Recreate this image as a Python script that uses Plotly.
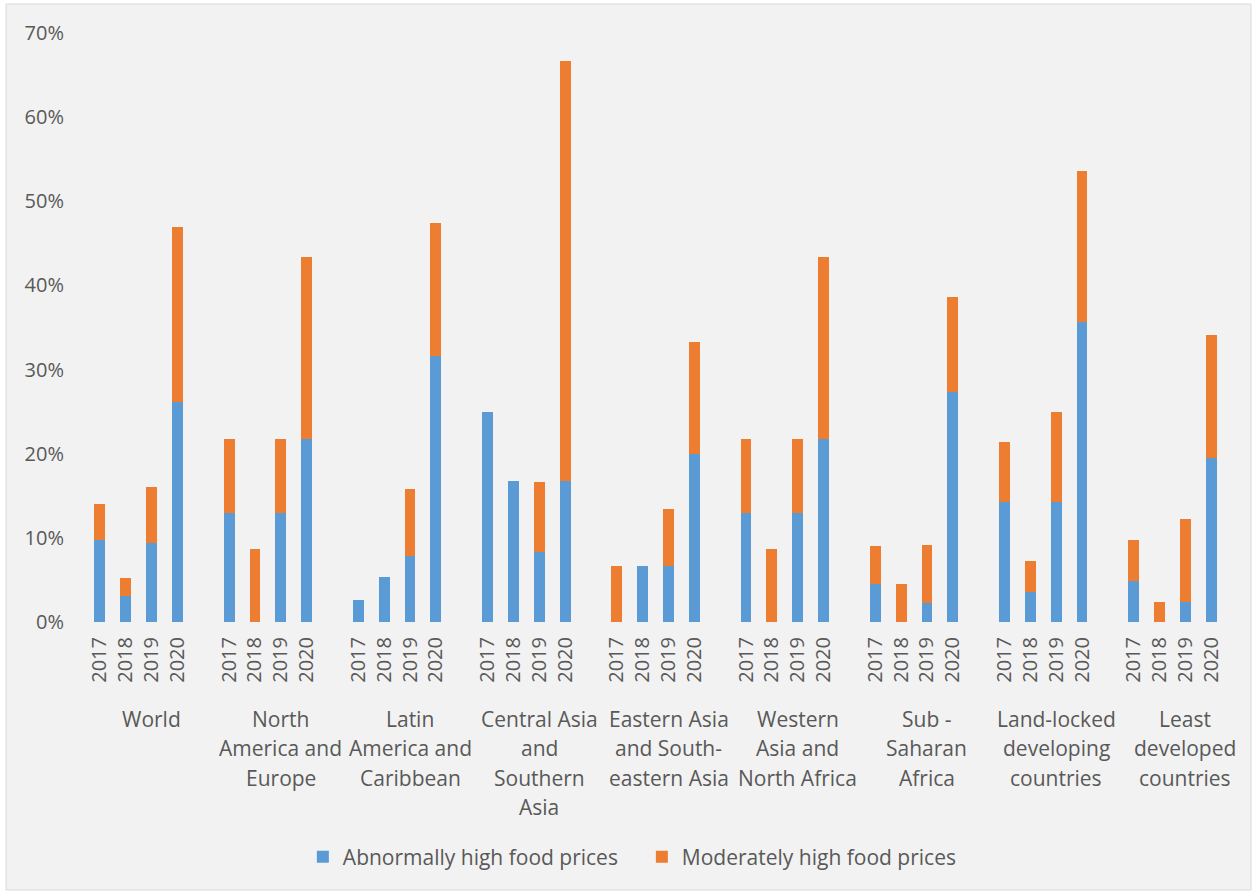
import plotly.graph_objects as go

groups = ["World", "North<br>America and<br>Europe", "Latin<br>America and<br>Caribbean",
          "Central Asia<br>and<br>Southern<br>Asia", "Eastern Asia<br>and South-<br>eastern Asia",
          "Western<br>Asia and<br>North Africa", "Sub -<br>Saharan<br>Africa",
          "Land-locked<br>developing<br>countries", "Least<br>developed<br>countries"]
years = ["2017", "2018", "2019", "2020"]

abnormal = [
    [9.8, 3.1, 9.4, 26.1],
    [13.0, 0, 13.0, 21.7],
    [2.6, 5.3, 7.9, 31.6],
    [25.0, 16.7, 8.3, 16.7],
    [0, 6.7, 6.7, 20.0],
    [13.0, 0, 13.0, 21.7],
    [4.5, 0, 2.3, 27.3],
    [14.3, 3.6, 14.3, 35.7],
    [4.9, 0, 2.4, 19.5],
]
moderate = [
    [4.2, 2.1, 6.7, 20.9],
    [8.7, 8.7, 8.7, 21.7],
    [0, 0, 7.9, 15.8],
    [0, 0, 8.3, 50.0],
    [6.7, 0, 6.7, 13.3],
    [8.7, 8.7, 8.7, 21.7],
    [4.5, 4.5, 6.8, 11.3],
    [7.1, 3.6, 10.7, 17.9],
    [4.9, 2.4, 9.8, 14.6],
]

SLOTS = len(years) + 1  # one empty slot after each group
xs, ticks, ab, mo = [], [], [], []
for g in range(len(groups)):
    for i, yr in enumerate(years):
        xs.append(g * SLOTS + i)
        ticks.append(yr)
        ab.append(abnormal[g][i])
        mo.append(moderate[g][i])

FONT = "Open Sans"
TXT = "#595959"

fig = go.Figure()
fig.add_trace(go.Bar(x=xs, y=ab, name="Abnormally high food prices",
                     marker=dict(color="#5B9BD5", line=dict(width=0)), width=0.42))
fig.add_trace(go.Bar(x=xs, y=mo, name="Moderately high food prices",
                     marker=dict(color="#ED7D31", line=dict(width=0)), width=0.42))

annotations = []
for g, name in enumerate(groups):
    for j, line in enumerate(name.split("<br>")):
        annotations.append(dict(x=g * SLOTS + 2, y=0, xref="x", yref="paper",
                                text=line, showarrow=False, xanchor="center", yanchor="middle",
                                yshift=-97 - 29.3 * j,
                                font=dict(family=FONT, size=21, color=TXT)))

fig.update_layout(
    width=1252, height=892,
    margin=dict(l=87, r=2, t=33, b=270),
    barmode="stack",
    paper_bgcolor="white",
    plot_bgcolor="#F2F2F2",
    font=dict(family=FONT, size=20, color=TXT),
    showlegend=True,
    legend=dict(orientation="h", x=0.1856, xanchor="left", y=-0.399, yanchor="middle",
                entrywidth=294, entrywidthmode="pixels",
                font=dict(family=FONT, size=21, color=TXT), bgcolor="rgba(0,0,0,0)",
                traceorder="normal"),
    annotations=annotations,
    shapes=[dict(type="rect", xref="paper", yref="paper", x0=-0.0696, x1=1.0009,
                 y0=-0.455, y1=1.0492, fillcolor="#F2F2F2",
                 line=dict(color="#D9D9D9", width=1), layer="below")],
    xaxis=dict(range=[-0.5, len(groups) * SLOTS - 0.5], tickmode="array", tickvals=xs,
               ticktext=ticks, tickangle=-90, showgrid=False, zeroline=False,
               showline=False, ticks="", ticklabelstandoff=10,
               tickfont=dict(family=FONT, size=20, color=TXT)),
    yaxis=dict(range=[0, 70], dtick=10, ticksuffix="%", showgrid=False, zeroline=False,
               showline=False, ticks="", ticklabelstandoff=22,
               tickfont=dict(family=FONT, size=20, color=TXT)),
)

fig.write_html("out.html", config={"displayModeBar": False},
               post_script="document.body.style.margin='0';document.body.style.overflow='hidden';")
